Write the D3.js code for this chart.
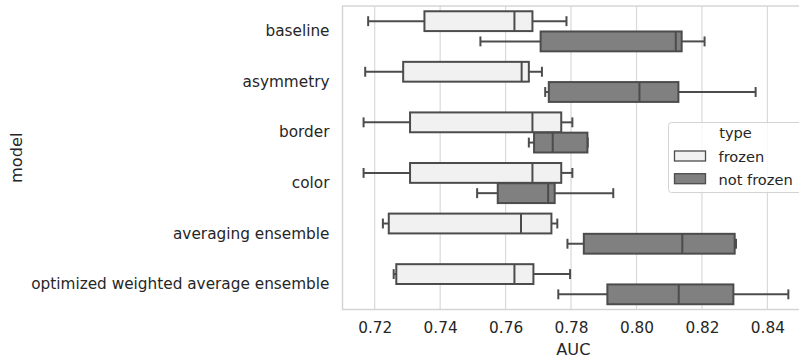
<!DOCTYPE html>
<html lang="en">
<head>
    <meta charset="UTF-8">
    <title>AUC by model</title>
    <script src="https://d3js.org/d3.v7.min.js"></script>
    <style>
        body { margin: 0; background: #fff; }
        text { font-family: "DejaVu Sans", sans-serif; fill: #262626; }
    </style>
</head>
<body>
<div id="chart"></div>
<script>
    // categories and hue levels
    const models = ['baseline', 'asymmetry', 'border', 'color', 'averaging ensemble', 'optimized weighted average ensemble'];
    const types = ['frozen', 'not frozen'];

    // box stats: [whisker low, q1, median, q3, whisker high]
    const frozenStats = [
        [0.7180, 0.7352, 0.7627, 0.7682, 0.7786],
        [0.7171, 0.7287, 0.7649, 0.7671, 0.7711],
        [0.7166, 0.7308, 0.7682, 0.7770, 0.7804],
        [0.7166, 0.7308, 0.7682, 0.7770, 0.7804],
        [0.7225, 0.7243, 0.7647, 0.7740, 0.7758],
        [0.7258, 0.7266, 0.7627, 0.7685, 0.7797]
    ];
    const notFrozenStats = [
        [0.7523, 0.7707, 0.8120, 0.8138, 0.8208],
        [0.7721, 0.7732, 0.8009, 0.8128, 0.8364],
        [0.7671, 0.7687, 0.7744, 0.7850, 0.7851],
        [0.7513, 0.7576, 0.7730, 0.7750, 0.7929],
        [0.7789, 0.7839, 0.8140, 0.8300, 0.8304],
        [0.7761, 0.7911, 0.8129, 0.8296, 0.8464]
    ];
    const xTicks = [0.72, 0.74, 0.76, 0.78, 0.80, 0.82, 0.84];

    const width = 799, height = 358;
    const plotLeft = 342.5, plotRight = 800, plotTop = 6, plotBottom = 309.5;
    const fills = { 'frozen': '#f1f1f1', 'not frozen': '#808080' };
    const edge = '#4c4c4c';

    const svg = d3.select('#chart').append('svg')
        .attr('width', width)
        .attr('height', height);

    const x = d3.scaleLinear().domain([0.71016, 0.84996]).range([plotLeft, plotRight]);
    const y = d3.scaleBand().domain(models).range([plotTop, plotBottom]).padding(0);
    const hue = d3.scaleBand().domain(types).range([-0.4, 0.4]);

    // grid lines
    svg.append('g')
        .selectAll('line')
        .data(xTicks)
        .enter()
        .append('line')
        .attr('x1', d => x(d)).attr('x2', d => x(d))
        .attr('y1', plotTop).attr('y2', plotBottom)
        .attr('stroke', '#d9d9d9')
        .attr('stroke-width', 1.2);

    // frame
    svg.append('rect')
        .attr('x', plotLeft).attr('y', plotTop)
        .attr('width', plotRight - plotLeft).attr('height', plotBottom - plotTop)
        .attr('fill', 'none')
        .attr('stroke', '#d3d3d3')
        .attr('stroke-width', 1.4);

    // x axis tick labels
    const xAxis = svg.append('g')
        .attr('transform', `translate(0, ${plotBottom})`)
        .call(d3.axisBottom(x).tickValues(xTicks).tickFormat(d3.format('.2f')).tickSize(0).tickPadding(13));
    xAxis.select('.domain').remove();
    xAxis.selectAll('text').style('font-size', '15.3px').style('fill', '#262626')
        .style('font-family', '"DejaVu Sans", sans-serif');

    // y axis labels
    const yAxis = svg.append('g')
        .attr('transform', `translate(${plotLeft}, 0)`)
        .call(d3.axisLeft(y).tickSize(0).tickPadding(13));
    yAxis.select('.domain').remove();
    yAxis.selectAll('text').style('font-size', '15.3px').style('fill', '#262626')
        .style('font-family', '"DejaVu Sans", sans-serif');

    // axis titles
    svg.append('text')
        .attr('x', x(0.7807)).attr('y', 355)
        .attr('text-anchor', 'middle')
        .style('font-size', '16.2px')
        .text('AUC');
    svg.append('text')
        .attr('transform', `translate(22, ${(plotTop + plotBottom) / 2}) rotate(-90)`)
        .attr('text-anchor', 'middle')
        .style('font-size', '16.2px')
        .text('model');

    // boxes
    const boxes = [];
    models.forEach((m, i) => {
        boxes.push({ model: m, type: 'frozen', s: frozenStats[i] });
        boxes.push({ model: m, type: 'not frozen', s: notFrozenStats[i] });
    });

    const bw = y.bandwidth();
    const g = svg.append('g');
    boxes.forEach(b => {
        const cy = y(b.model) + bw / 2 + (hue(b.type) + hue.bandwidth() / 2) * bw;
        const h = hue.bandwidth() * bw * 0.98;
        const [lo, q1, med, q3, hi] = b.s;
        const bx = g.append('g');
        // whiskers
        bx.append('line').attr('x1', x(lo)).attr('x2', x(q1)).attr('y1', cy).attr('y2', cy);
        bx.append('line').attr('x1', x(q3)).attr('x2', x(hi)).attr('y1', cy).attr('y2', cy);
        // caps
        bx.append('line').attr('x1', x(lo)).attr('x2', x(lo)).attr('y1', cy - h / 4).attr('y2', cy + h / 4);
        bx.append('line').attr('x1', x(hi)).attr('x2', x(hi)).attr('y1', cy - h / 4).attr('y2', cy + h / 4);
        // box
        bx.append('rect')
            .attr('x', x(q1)).attr('y', cy - h / 2)
            .attr('width', x(q3) - x(q1)).attr('height', h)
            .attr('fill', fills[b.type]);
        // median
        bx.append('line').attr('x1', x(med)).attr('x2', x(med)).attr('y1', cy - h / 2).attr('y2', cy + h / 2);
        bx.selectAll('line, rect').attr('stroke', edge).attr('stroke-width', 2);
    });

    // legend
    const lg = svg.append('g').attr('transform', 'translate(668.5, 122.5)');
    lg.append('rect')
        .attr('width', 140).attr('height', 70).attr('rx', 3)
        .attr('fill', '#fff').attr('fill-opacity', 0.8)
        .attr('stroke', '#d3d3d3').attr('stroke-width', 1);
    lg.append('text')
        .attr('x', 67).attr('y', 15.5)
        .attr('text-anchor', 'middle')
        .style('font-size', '14.6px')
        .text('type');
    types.forEach((t, i) => {
        lg.append('rect')
            .attr('x', 6).attr('y', 28.5 + i * 22.7)
            .attr('width', 31).attr('height', 10)
            .attr('fill', fills[t]).attr('stroke', edge).attr('stroke-width', 1.3);
        lg.append('text')
            .attr('x', 50).attr('y', 39.5 + i * 22.7)
            .style('font-size', '14.6px')
            .text(t);
    });
</script>
</body>
</html>
